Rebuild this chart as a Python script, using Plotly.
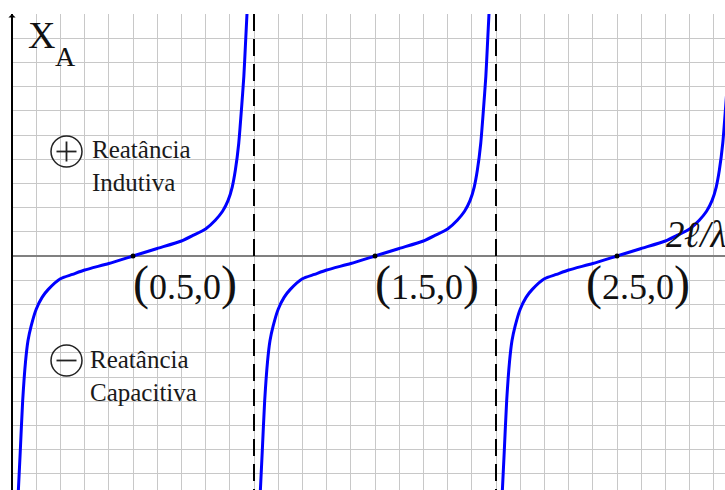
import plotly.graph_objects as go

# Zeros of the reactance curve (in units of 2l/lambda) and the poles between them
zero_points = [0.5, 1.5, 2.5]
pole_points = [1.0, 2.0]

# One branch of X_A around its zero: offset along 2l/lambda and reactance value
branch_offset = [-0.474, -0.466, -0.456, -0.444, -0.434, -0.421, -0.400, -0.375,
                 -0.350, -0.300, -0.250, -0.200, -0.100, 0.000, 0.100, 0.200,
                 0.250, 0.300, 0.340, 0.370, 0.393, 0.410, 0.423, 0.437,
                 0.448, 0.458, 0.465, 0.471]
branch_value = [-0.975, -0.810, -0.600, -0.435, -0.350, -0.290, -0.220, -0.170,
                -0.138, -0.094, -0.076, -0.058, -0.031, 0.000, 0.031, 0.062,
                0.086, 0.112, 0.148, 0.185, 0.230, 0.285, 0.355, 0.466,
                0.604, 0.742, 0.880, 1.000]

W, H = 725, 490
UNIT = 242.0          # pixels per unit on both axes
LEFT_PAD = 12         # white strip left of the vertical axis
TOP = 14
x_range = [-LEFT_PAD / UNIT, (W - LEFT_PAD) / UNIT]
y_top = 1.0
y_bottom = y_top - (H - TOP) / UNIT

SERIF = "Liberation Serif"
BLUE = "#0000ff"

fig = go.Figure()

for z in zero_points:
    fig.add_trace(go.Scatter(
        x=[z + o for o in branch_offset], y=branch_value,
        mode="lines", line=dict(color=BLUE, width=3, shape="spline", smoothing=0.6),
        hoverinfo="skip", showlegend=False))

fig.add_trace(go.Scatter(
    x=zero_points, y=[0] * len(zero_points), mode="markers",
    marker=dict(color="black", size=5), hoverinfo="skip", showlegend=False))

shapes = []
# white strip left of the X_A axis
shapes.append(dict(type="rect", xref="x", yref="y", x0=x_range[0], x1=0,
                   y0=y_bottom, y1=y_top, fillcolor="white",
                   line=dict(width=0), layer="above"))
# X_A axis
shapes.append(dict(type="line", xref="x", yref="y", x0=0, x1=0,
                   y0=y_bottom, y1=y_top, line=dict(color="black", width=2),
                   layer="above"))
# asymptotes
for p in pole_points:
    shapes.append(dict(type="line", xref="x", yref="y", x0=p, x1=p,
                       y0=y_top, y1=y_bottom,
                       line=dict(color="black", width=2, dash="17px,8px"),
                       layer="above"))

# sign circles (+ inductive, - capacitive)
R = 15.5 / UNIT
cx = (66.5 - LEFT_PAD) / UNIT
for cy, plus in [((256 - 151.5) / UNIT, True), ((256 - 360.5) / UNIT, False)]:
    shapes.append(dict(type="circle", xref="x", yref="y",
                       x0=cx - R, x1=cx + R, y0=cy - R, y1=cy + R,
                       line=dict(color="#222222", width=1.5), layer="above"))
    a = 10 / UNIT
    shapes.append(dict(type="line", xref="x", yref="y", x0=cx - a, x1=cx + a,
                       y0=cy, y1=cy, line=dict(color="#222222", width=1.8),
                       layer="above"))
    if plus:
        shapes.append(dict(type="line", xref="x", yref="y", x0=cx, x1=cx,
                           y0=cy - a, y1=cy + a,
                           line=dict(color="#222222", width=1.8), layer="above"))

annotations = []
# arrow tip on the X_A axis
annotations.append(dict(x=0, y=y_top, xref="x", yref="y", text="",
                        showarrow=True, ax=0, ay=12, arrowhead=1,
                        arrowsize=0.6, arrowwidth=2, arrowcolor="black"))
annotations.append(dict(x=(26 - LEFT_PAD) / UNIT, y=(256 - 35) / UNIT,
                        xref="x", yref="y", text="X", showarrow=False,
                        xanchor="left", yanchor="middle",
                        font=dict(family=SERIF, size=38, color="#111111")))
annotations.append(dict(x=(53 - LEFT_PAD) / UNIT, y=(256 - 56) / UNIT,
                        xref="x", yref="y", text="A", showarrow=False,
                        xanchor="left", yanchor="middle",
                        font=dict(family=SERIF, size=28, color="#111111")))
# axis name, running off the right edge
annotations.append(dict(x=(664 - LEFT_PAD) / UNIT, y=(256 - 234) / UNIT,
                        xref="x", yref="y", text="<i>2<b>ℓ</b>/λ</i>",
                        showarrow=False, xanchor="left", yanchor="middle",
                        font=dict(family=SERIF, size=37, color="#111111")))
annotations.append(dict(x=(90 - LEFT_PAD) / UNIT, y=(256 - 166) / UNIT,
                        xref="x", yref="y", text="Reatância<br>Indutiva",
                        showarrow=False, xanchor="left", yanchor="middle",
                        align="left",
                        font=dict(family=SERIF, size=25, color="#1a1a1a")))
annotations.append(dict(x=(88 - LEFT_PAD) / UNIT, y=(256 - 376) / UNIT,
                        xref="x", yref="y", text="Reatância<br>Capacitiva",
                        showarrow=False, xanchor="left", yanchor="middle",
                        align="left",
                        font=dict(family=SERIF, size=25, color="#1a1a1a")))

label_shift = [0, 0, -31]
paren = '<span style="font-size:48px">{}</span>'
for z, dx in zip(zero_points, label_shift):
    annotations.append(dict(
        x=z, y=0, xref="x", yref="y",
        text=paren.format("(") + f"{z:g},0" + paren.format(")"),
        showarrow=False, xanchor="left", yanchor="middle",
        xshift=dx - 2, yshift=-27,
        font=dict(family=SERIF, size=36, color="#111111")))

fig.update_layout(
    width=W, height=H,
    margin=dict(l=0, r=0, t=TOP, b=0, pad=0),
    paper_bgcolor="white", plot_bgcolor="white",
    showlegend=False,
    shapes=shapes, annotations=annotations,
    xaxis=dict(range=x_range, dtick=0.1, tick0=0, showgrid=True,
               gridcolor="#c8c8c8", gridwidth=1, zeroline=False,
               showticklabels=False, ticks="", showline=False, fixedrange=True),
    yaxis=dict(range=[y_bottom, y_top], dtick=0.1, tick0=0, showgrid=True,
               gridcolor="#c8c8c8", gridwidth=1, zeroline=True,
               zerolinecolor="#808080", zerolinewidth=2,
               showticklabels=False, ticks="", showline=False, fixedrange=True),
)

fig.write_html("out.html", config={"displayModeBar": False})
